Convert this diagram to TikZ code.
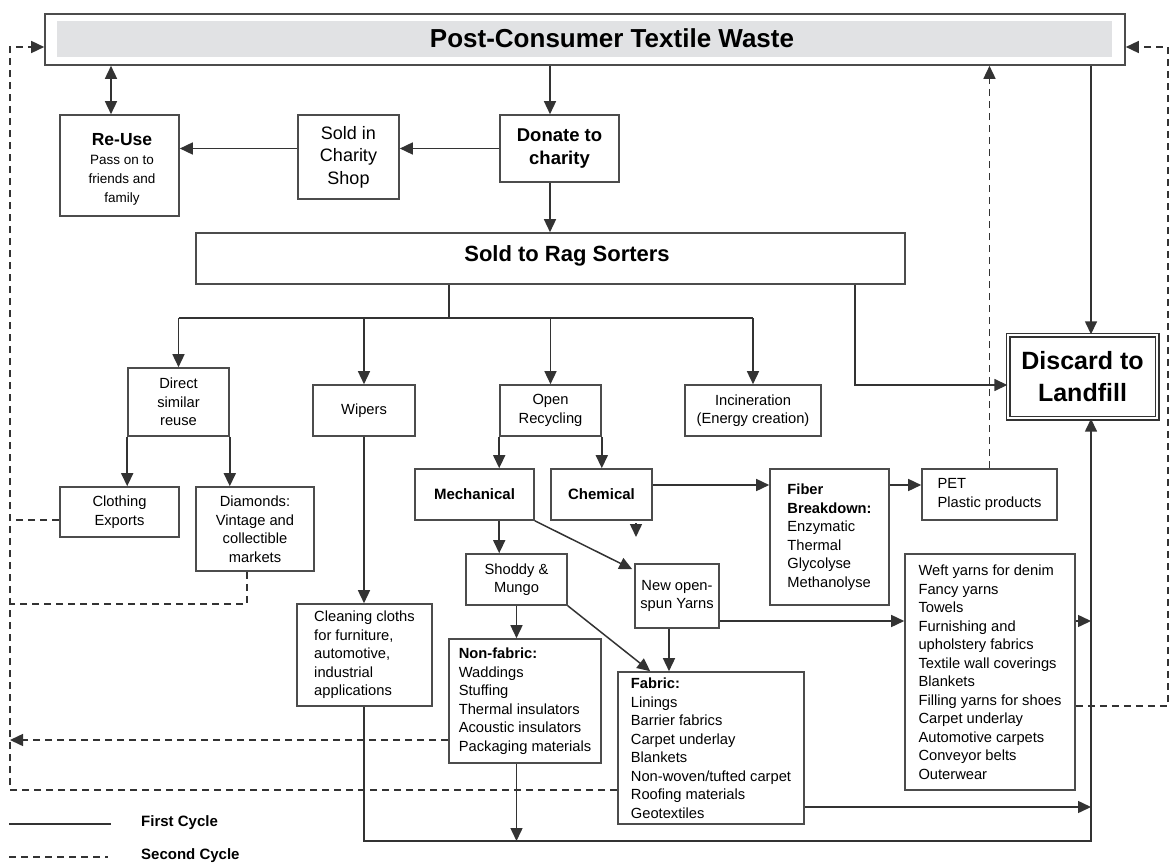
\documentclass[tikz,border=0pt]{standalone}
\usepackage{fontspec}
\setmainfont{Liberation Sans}
\usetikzlibrary{arrows.meta,calc}
\definecolor{wastegray}{HTML}{E1E2E4}
\newcommand\smtxt{\fontsize{14.7}{18.5}\selectfont}
\tikzset{
  ln/.style={draw=black!80, line width=1.5pt},
  arr/.style={ln, -{Triangle[length=13pt,width=12pt]}},
  arrtwo/.style={ln, {Triangle[length=13pt,width=12pt]}-{Triangle[length=13pt,width=12pt]}},
  dsh/.style={ln, dash pattern=on 7pt off 5pt},
  darr/.style={arr, dash pattern=on 7pt off 5pt},
  bx/.style={draw=black!70, line width=1.6pt, rectangle, inner sep=0pt, align=center, font=\smtxt, text=black},
  lbx/.style={bx, align=left},
}
\begin{document}
\begin{tikzpicture}[x=1pt,y=-1pt]
\useasboundingbox (0,0) rectangle (1170,864);

% ---------- boxes ----------
\node[bx, minimum width=1080pt, minimum height=51pt] (waste) at (585,39.5) {};
\node[fill=wastegray, minimum width=1055pt, minimum height=36pt, inner sep=0pt] (wastefill) at (584.5,39) {};
\node[font=\fontsize{26}{30}\selectfont\bfseries] (wastelabel) at (612,38) {Post-Consumer Textile Waste};

\node[bx, minimum width=119pt, minimum height=101pt, font=\fontsize{13.5}{19}\selectfont] (reuse) at (119.5,165.5) {};
\node[align=center, inner sep=0pt, font=\fontsize{13.5}{19}\selectfont] (reuselabel) at (122,169)
  {{\fontsize{17.5}{19}\selectfont\bfseries Re-Use}\\Pass on to\\friends and\\family};
\node[bx, minimum width=101pt, minimum height=84pt, font=\fontsize{18}{22.5}\selectfont] (shop) at (348.5,157) {Sold in\\Charity\\Shop};
\node[bx, minimum width=119pt, minimum height=67pt, font=\fontsize{18.5}{23}\selectfont\bfseries] (donate) at (559.5,148.5) {Donate to\\charity};
\node[bx, minimum width=709pt, minimum height=51pt] (rag) at (550.5,258.5) {};
\node[font=\fontsize{22}{26}\selectfont\bfseries, inner sep=0pt] (raglabel) at (567,256) {Sold to Rag Sorters};

\node[bx, minimum width=101pt, minimum height=68pt] (direct) at (178.5,402) {Direct\\similar\\reuse};
\node[bx, minimum width=102pt, minimum height=51pt] (wipers) at (364,410.5) {Wipers};
\node[bx, minimum width=101pt, minimum height=51pt] (open) at (550.5,410.5) {Open\\Recycling};
\node[bx, minimum width=136pt, minimum height=51pt] (incin) at (753,410.5) {Incineration\\(Energy creation)};
\node[draw=black!80, double, double distance=2.2pt, line width=1.4pt, minimum width=149pt, minimum height=83pt,
      inner sep=0pt, align=center, font=\fontsize{25}{32}\selectfont\bfseries] (landfill) at (1082.5,376.5) {Discard to\\Landfill};

\node[bx, minimum width=119pt, minimum height=50pt] (clothing) at (119.5,512) {Clothing\\Exports};
\node[bx, minimum width=118pt, minimum height=84pt] (diamonds) at (255,529) {Diamonds:\\Vintage and\\collectible\\markets};
\node[bx, minimum width=119pt, minimum height=51pt, font=\fontsize{15}{18.5}\selectfont\bfseries] (mech) at (474.5,494.5) {Mechanical};
\node[bx, minimum width=101pt, minimum height=51pt, font=\fontsize{15}{18.5}\selectfont\bfseries] (chem) at (601.5,494.5) {Chemical};
\node[lbx, minimum width=119pt, minimum height=136pt] (fiber) at (829.5,537)
  {\textbf{Fiber}\\\textbf{Breakdown:}\\Enzymatic\\Thermal\\Glycolyse\\Methanolyse};
\node[lbx, minimum width=135pt, minimum height=51pt] (pet) at (989.5,494.5) {PET\\Plastic products};
\node[bx, minimum width=101pt, minimum height=51pt] (shoddy) at (516.5,579.5) {Shoddy \&\\Mungo};
\node[bx, minimum width=84pt, minimum height=64pt] (nyarn) at (677,596) {New open-\\spun Yarns};
\node[lbx, minimum width=170pt, minimum height=236pt] (weft) at (990,672)
  {Weft yarns for denim\\Fancy yarns\\Towels\\Furnishing and\\upholstery fabrics\\Textile wall coverings\\Blankets\\Filling yarns for shoes\\Carpet underlay\\Automotive carpets\\Conveyor belts\\Outerwear};
\node[lbx, minimum width=135pt, minimum height=102pt] (clean) at (364.5,655)
  {Cleaning cloths\\for furniture,\\automotive,\\industrial\\applications};
\node[lbx, minimum width=152pt, minimum height=124pt] (nonfab) at (525,701)
  {\textbf{Non-fabric:}\\Waddings\\Stuffing\\Thermal insulators\\Acoustic insulators\\Packaging materials};
\node[lbx, minimum width=186pt, minimum height=152pt] (fabric) at (711,748)
  {\textbf{Fabric:}\\Linings\\Barrier fabrics\\Carpet underlay\\Blankets\\Non-woven/tufted carpet\\Roofing materials\\Geotextiles};

% ---------- legend ----------
\coordinate (lga) at (9,824);
\coordinate (lgb) at (111,824);
\coordinate (lgc) at (9,857);
\coordinate (lgd) at (108,857);
\draw[ln] (lga) -- (lgb);
\draw[dsh] (lgc) -- (lgd);
\node[anchor=west, inner sep=0pt, font=\fontsize{15}{18}\selectfont\bfseries] (first) at (141,823) {First Cycle};
\node[anchor=west, inner sep=0pt, font=\fontsize{15}{18}\selectfont\bfseries] (second) at (141,856) {Second Cycle};

% ---------- helper coordinates ----------
\coordinate (rx) at (1091,0);
\coordinate (lx) at (10,0);
\coordinate (cx) at (550,0);
\coordinate (ux) at (111,0);
\coordinate (rb) at (449,318);
\coordinate (rl) at (855,385);
\coordinate (cy) at (0,485);
\coordinate (chd) at (636,523);
\coordinate (ny) at (669,0);
\coordinate (yw) at (0,621);
\coordinate (yf) at (0,807);
\coordinate (by) at (0,841);
\coordinate (ty) at (0,47);
\coordinate (rgx) at (1168,0);
\coordinate (dy) at (0,790);
\coordinate (ce) at (0,520);
\coordinate (dx) at (247,604);
\coordinate (nfy) at (0,740);
\coordinate (wy) at (0,706);

% ---------- first cycle ----------
\draw[arr] (waste.south -| cx) -- (donate.north -| cx);
\draw[arr] (donate.west |- donate.west) -- (shop.east |- donate.west);
\draw[arr] (shop.west |- donate.west) -- (reuse.east |- donate.west);
\draw[arrtwo] (waste.south -| ux) -- (reuse.north -| ux);
\draw[arr] (donate.south -| cx) -- (rag.north -| cx);
\draw[ln] (rag.south -| rb) -- (rb);
\draw[ln] (direct.north |- rb) -- (incin.north |- rb);
\draw[arr] (direct.north |- rb) -- (direct.north);
\draw[arr] (wipers.north |- rb) -- (wipers.north);
\draw[arr] (open.north |- rb) -- (open.north);
\draw[arr] (incin.north |- rb) -- (incin.north);
\draw[arr] (rag.south -| rl) -- (rl) -- (landfill.west |- rl);
\draw[arr] (waste.south -| rx) -- (landfill.north -| rx);
\draw[arr] (direct.south west) -- (direct.south west |- clothing.north);
\draw[arr] (direct.south east) -- (direct.south east |- diamonds.north);
\draw[arr] (wipers.south) -- (wipers.south |- clean.north);
\draw[arr] (open.south west) -- (open.south west |- mech.north);
\draw[arr] (open.south east) -- (open.south east |- chem.north);
\draw[arr] (chem.east |- cy) -- (fiber.west |- cy);
\draw[arr] (fiber.east |- cy) -- (pet.west |- cy);
\draw[arr] (chd) -- ++(0,14);
\draw[arr] (open.south west |- mech.south) -- (open.south west |- shoddy.north);
\draw[arr] (mech.south east) -- ($(nyarn.north west)+(-2,6)$);
\draw[arr] (shoddy.south east) -- ($(fabric.north west)+(33,0)$);
\draw[arr] (shoddy.south) -- (shoddy.south |- nonfab.north);
\draw[arr] (nyarn.south -| ny) -- (fabric.north -| ny);
\draw[arr] (nyarn.east |- yw) -- (weft.west |- yw);
\draw[arr] (weft.east |- yw) -- (rx |- yw);
\draw[arr] (fabric.east |- yf) -- (rx |- yf);
\draw[arr] (clean.south -| wipers.south) -- (wipers.south |- by) -- (rx |- by) -- (landfill.south -| rx);
\draw[arr] (nonfab.south -| shoddy.south) -- (shoddy.south |- by);

% ---------- second cycle ----------
\draw[darr] (fabric.west |- dy) -- (lx |- dy) -- (lx |- ty) -- (waste.west |- ty);
\draw[dsh] (clothing.west |- ce) -- (lx |- ce);
\draw[dsh] (diamonds.south -| dx) -- (dx) -- (lx |- dx);
\draw[darr] (nonfab.west |- nfy) -- (lx |- nfy);
\draw[darr] (weft.east |- wy) -- (rgx |- wy) -- (rgx |- ty) -- (waste.east |- ty);
\draw[darr] (pet.north) -- (pet.north |- waste.south);
\end{tikzpicture}
\end{document}
